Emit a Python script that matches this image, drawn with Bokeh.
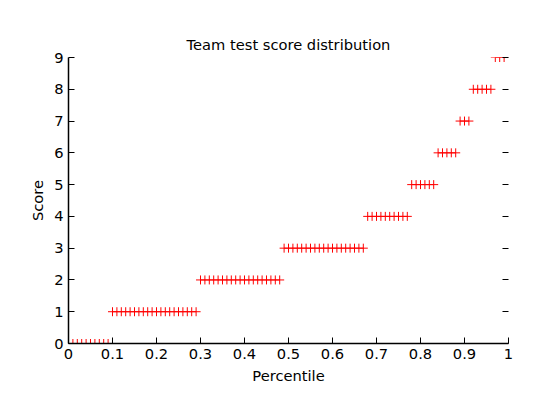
from bokeh.plotting import figure
from bokeh.models import LinearAxis, FixedTicker, Range1d
from bokeh.embed import file_html
from bokeh.resources import INLINE

# number of team members at each score, ordered by percentile
scores = [0, 1, 2, 3, 4, 5, 6, 7, 8, 9]
score_counts = [10, 20, 19, 19, 10, 6, 5, 3, 5, 3]

ys = []
for s, c in zip(scores, score_counts):
    ys += [s] * c
xs = [i / 100 for i in range(len(ys))]

FONT = "DejaVu Sans"
p = figure(frame_width=440, frame_height=286, output_backend="svg", toolbar_location=None,
           x_range=Range1d(0, 1), y_range=Range1d(0, 9), min_border_left=68,
           min_border_right=24, min_border_top=57, min_border_bottom=54)
p.title.text = "Team test score distribution"
p.title.align = "center"
p.title.text_font = FONT
p.title.text_font_size = "11pt"
p.title.text_font_style = "normal"
p.title.text_color = "black"
p.grid.visible = False
p.outline_line_color = None

p.scatter(xs, ys, marker="cross", size=9, line_color="red", line_width=1)

p.xaxis.axis_label = "Percentile"
p.yaxis.axis_label = "Score"
p.xaxis.ticker = FixedTicker(ticks=[i / 10 for i in range(11)])
p.xaxis.major_label_overrides = {i / 10: ("0" if i == 0 else ("1" if i == 10 else f"0.{i}")) for i in range(11)}
p.yaxis.ticker = FixedTicker(ticks=list(range(10)))
for ax in (p.xaxis[0], p.yaxis[0]):
    ax.axis_label_text_font = FONT
    ax.axis_label_text_font_style = "normal"
    ax.axis_label_text_font_size = "11pt"
    ax.axis_label_text_color = "black"
    ax.major_label_text_font = FONT
    ax.major_label_text_font_size = "11pt"
    ax.major_label_text_color = "black"
    ax.major_tick_in = 6
    ax.major_tick_out = 0
    ax.minor_tick_line_color = None
    ax.axis_line_color = "black"
    ax.axis_line_width = 1.5

r = LinearAxis(ticker=FixedTicker(ticks=list(range(10))), major_label_text_font_size="0pt",
               axis_line_color=None, major_tick_in=6, major_tick_out=0,
               minor_tick_line_color=None)
p.add_layout(r, "right")

open("out.html", "w").write(file_html(p, INLINE))
